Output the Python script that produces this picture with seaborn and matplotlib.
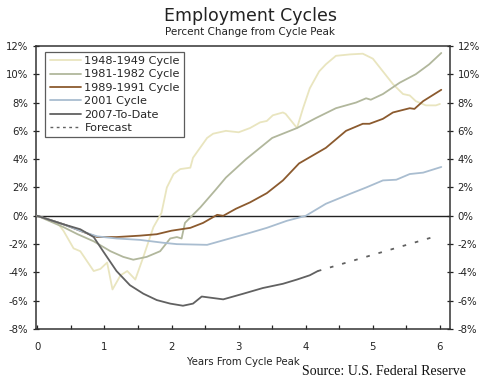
import numpy as np
import pandas as pd
import matplotlib
matplotlib.use("Agg")
import matplotlib.pyplot as plt
import seaborn as sns
from matplotlib.ticker import MultipleLocator, FuncFormatter
from matplotlib.lines import Line2D

# ---- data ----
x_1948 = [0, 0.3, 0.39, 0.54, 0.64, 0.84, 0.94, 1.04, 1.12, 1.24, 1.34, 1.38, 1.46, 1.58, 1.73, 1.85,
          1.93, 2.03, 2.13, 2.28, 2.32, 2.53, 2.62, 2.81, 3.0, 3.17, 3.32, 3.42, 3.51, 3.66, 3.7, 3.87,
          3.96, 4.06, 4.2, 4.3, 4.45, 4.66, 4.85, 5.0, 5.15, 5.3, 5.45, 5.55, 5.64, 5.79, 5.94, 6.0]
y_1948 = [0, -0.5, -1.06, -2.3, -2.5, -3.9, -3.75, -3.3, -5.2, -4.2, -3.9, -4.1, -4.5, -2.9, -0.8, 0.2,
          2.0, 2.95, 3.3, 3.4, 4.1, 5.5, 5.8, 6.0, 5.9, 6.2, 6.6, 6.7, 7.1, 7.3, 7.2, 6.2,
          7.6, 9.0, 10.2, 10.7, 11.3, 11.4, 11.45, 11.1, 10.2, 9.3, 8.6, 8.5, 8.1, 7.8, 7.8, 7.9]

x_1981 = [0, 0.39, 0.6, 0.84, 1.09, 1.28, 1.43, 1.63, 1.83, 1.98, 2.08, 2.15, 2.2, 2.43, 2.65, 2.81,
          3.11, 3.5, 3.87, 4.15, 4.45, 4.75, 4.9, 4.97, 5.15, 5.4, 5.64, 5.84, 6.02]
y_1981 = [0, -0.8, -1.3, -1.8, -2.5, -2.9, -3.1, -2.9, -2.5, -1.6, -1.5, -1.6, -0.5, 0.6, 1.8, 2.7,
          4.0, 5.5, 6.2, 6.9, 7.6, 8.0, 8.3, 8.2, 8.6, 9.4, 10.0, 10.7, 11.5]

x_1989 = [0, 0.39, 0.64, 0.89, 1.18, 1.53, 1.78, 2.0, 2.28, 2.47, 2.68, 2.77, 2.96, 3.17, 3.42, 3.66,
          3.9, 4.3, 4.6, 4.85, 4.95, 5.15, 5.3, 5.55, 5.62, 5.75, 6.02]
y_1989 = [0, -0.6, -1.06, -1.5, -1.5, -1.4, -1.3, -1.05, -0.85, -0.5, 0.07, 0.0, 0.5, 0.95, 1.6, 2.5,
          3.7, 4.8, 6.0, 6.5, 6.5, 6.85, 7.3, 7.6, 7.55, 8.1, 8.9]

x_2001 = [0, 0.39, 0.64, 0.89, 1.18, 1.53, 1.87, 2.08, 2.53, 2.83, 3.17, 3.42, 3.72, 4.0, 4.3, 4.66,
          4.9, 5.15, 5.35, 5.55, 5.75, 6.02]
y_2001 = [0, -0.6, -1.06, -1.45, -1.6, -1.7, -1.9, -2.0, -2.05, -1.65, -1.2, -0.85, -0.35, 0.0, 0.85, 1.55,
          2.0, 2.5, 2.55, 2.95, 3.05, 3.45]

x_2007 = [0, 0.39, 0.64, 0.84, 0.98, 1.18, 1.38, 1.58, 1.78, 1.98, 2.17, 2.32, 2.45, 2.77, 3.07, 3.36,
          3.66, 3.87, 4.06, 4.18]
y_2007 = [0, -0.6, -0.95, -1.5, -2.5, -3.9, -4.9, -5.5, -5.95, -6.2, -6.35, -6.2, -5.7, -5.9, -5.5, -5.1,
          -4.8, -4.5, -4.2, -3.9]

x_fcst = [4.18, 5.97]
y_fcst = [-3.9, -1.4]

series_names = ["1948-1949 Cycle", "1981-1982 Cycle", "1989-1991 Cycle", "2001 Cycle", "2007-To-Date"]
colors = ["#e9e5bf", "#b1b79c", "#8b5a2e", "#a9bdd0", "#616161"]

frames = []
for name, xs, ys in zip(series_names,
                        [x_1948, x_1981, x_1989, x_2001, x_2007],
                        [y_1948, y_1981, y_1989, y_2001, y_2007]):
    frames.append(pd.DataFrame({"years": xs, "pct": ys, "series": name}))
df = pd.concat(frames, ignore_index=True)
df_f = pd.DataFrame({"years": x_fcst, "pct": y_fcst, "series": "Forecast"})

sns.set_style("white")
plt.rcParams["font.family"] = ["DejaVu Sans"]

fig = plt.figure(figsize=(5.0, 3.89), dpi=100)
ax = fig.add_axes([0.072, 0.154, 0.828, 0.728])

ax.axhline(0, color="#222222", lw=1.0, zorder=1)
sns.lineplot(data=df, x="years", y="pct", hue="series", hue_order=series_names,
             palette=colors, lw=1.3, ax=ax, sort=False, estimator=None, legend=False, zorder=3)
sns.lineplot(data=df_f, x="years", y="pct", color="#616161", lw=1.3, ax=ax,
             linestyle=(0, (2, 5)), legend=False, zorder=3)

ax.set_xlim(-0.02, 6.15)
ax.set_ylim(-8, 12)
ax.xaxis.set_major_locator(MultipleLocator(1))
ax.xaxis.set_minor_locator(MultipleLocator(0.5))
ax.yaxis.set_major_locator(MultipleLocator(2))
ax.yaxis.set_major_formatter(FuncFormatter(lambda v, p: f"{int(v)}%"))
ax.tick_params(axis="y", which="major", direction="inout", length=5, width=0.9,
               labelsize=7.3, colors="#222222", left=True, right=True, labelleft=True, labelright=True,
               pad=3)
ax.tick_params(axis="x", which="both", direction="in", length=3, width=0.9,
               labelsize=7.3, colors="#222222", bottom=True, pad=9)
for sp in ax.spines.values():
    sp.set_color("#333333")
    sp.set_linewidth(1.1)
ax.set_xlabel("Years From Cycle Peak", fontsize=7.3, color="#222222", labelpad=4)
ax.set_ylabel("")

# legend
handles = [Line2D([], [], color=c, lw=1.3) for c in colors]
handles.append(Line2D([], [], color="#616161", lw=1.0, linestyle=(0, (2, 2.5))))
leg = ax.legend(handles, series_names + ["Forecast"], loc="upper left",
                bbox_to_anchor=(0.022, 0.98), fontsize=8.1, frameon=True, fancybox=False,
                edgecolor="#333333", handlelength=2.8, handletextpad=0.3, labelspacing=0.3,
                borderpad=0.4, borderaxespad=0.0)
leg.get_frame().set_linewidth(0.9)

fig.text(0.5, 0.935, "Employment Cycles", ha="center", va="bottom", fontsize=12.5, color="#222222")
fig.text(0.5, 0.93, "Percent Change from Cycle Peak", ha="center", va="top", fontsize=7.5, color="#222222")
fig.text(0.932, 0.045, "Source: U.S. Federal Reserve", ha="right", va="center", fontsize=10,
         family=["Liberation Serif"], color="#111111")

fig.savefig("out.png", dpi=100)
